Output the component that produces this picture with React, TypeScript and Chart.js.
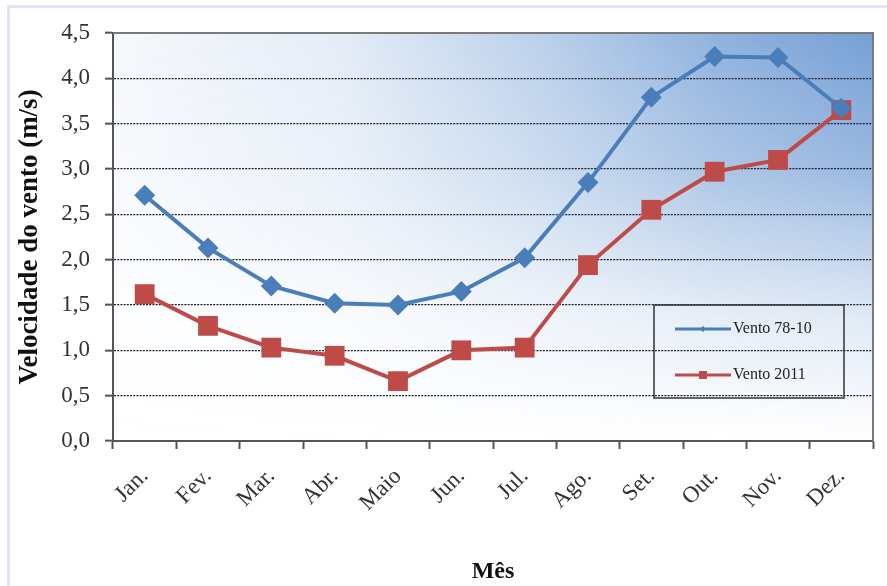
import React, { useEffect, useRef } from "react";
import { Chart, registerables } from "chart.js";

Chart.register(...registerables);

const months = ["Jan.", "Fev.", "Mar.", "Abr.", "Maio", "Jun.", "Jul.", "Ago.", "Set.", "Out.", "Nov.", "Dez."];
const vento7810 = [2.71, 2.13, 1.71, 1.52, 1.5, 1.65, 2.02, 2.85, 3.79, 4.24, 4.23, 3.67];
const vento2011 = [1.62, 1.27, 1.03, 0.94, 0.66, 1.0, 1.03, 1.94, 2.55, 2.97, 3.1, 3.65];
const seriesLabels = ["Vento 78-10", "Vento 2011"];
const yTitle = "Velocidade do vento (m/s)";
const xTitle = "Mês";

const BLUE = "#4a7ebb";
const RED = "#be4b48";
const SERIF = "'Liberation Serif', 'Times New Roman', serif";

const bgPlugin = {
  id: "bgPlugin",
  beforeDraw(chart: any) {
    const { ctx, chartArea: a, width, height } = chart;
    ctx.save();
    ctx.fillStyle = "#ffffff";
    ctx.fillRect(0, 0, width, height);
    // outer lavender frame
    ctx.fillStyle = "#e3e3f6";
    ctx.fillRect(7, 5, width - 7, 3);
    ctx.fillRect(7, 5, 3, height - 5);
    // plot gradient
    const w = Math.round(a.right - a.left);
    const h = Math.round(a.bottom - a.top);
    const off = document.createElement("canvas");
    off.width = w;
    off.height = h;
    const o = off.getContext("2d")!;
    const hg = o.createLinearGradient(0, 0, w, 0);
    hg.addColorStop(0, "rgba(118,160,214,0.07)");
    hg.addColorStop(0.3, "rgba(118,160,214,0.2)");
    hg.addColorStop(0.55, "rgba(118,160,214,0.48)");
    hg.addColorStop(0.8, "rgba(118,160,214,0.82)");
    hg.addColorStop(1, "rgba(118,160,214,1)");
    o.fillStyle = hg;
    o.fillRect(0, 0, w, h);
    o.globalCompositeOperation = "destination-in";
    const vg = o.createLinearGradient(0, 0, 0, h);
    vg.addColorStop(0, "rgba(0,0,0,1)");
    vg.addColorStop(0.35, "rgba(0,0,0,0.72)");
    vg.addColorStop(0.7, "rgba(0,0,0,0.22)");
    vg.addColorStop(1, "rgba(0,0,0,0)");
    o.fillStyle = vg;
    o.fillRect(0, 0, w, h);
    ctx.drawImage(off, a.left, a.top);
    ctx.restore();
  },
  beforeDatasetsDraw(chart: any) {
    const { ctx, chartArea: a } = chart;
    ctx.save();
    ctx.strokeStyle = "#7a7a7a";
    ctx.lineWidth = 2;
    ctx.beginPath();
    ctx.moveTo(a.left, a.top);
    ctx.lineTo(a.right, a.top);
    ctx.lineTo(a.right, a.bottom);
    ctx.stroke();
    ctx.restore();
  },
  afterDraw(chart: any) {
    const { ctx, chartArea: a } = chart;
    const bx = a.right - 219;
    const by = a.top + 272;
    const bw = 190;
    const bh = 93;
    ctx.save();
    ctx.strokeStyle = "#333333";
    ctx.lineWidth = 1.5;
    ctx.strokeRect(bx, by, bw, bh);
    const entries = [
      { label: chart.data.datasets[0].label, color: BLUE, style: "diamond", y: by + 24 },
      { label: chart.data.datasets[1].label, color: RED, style: "square", y: by + 70 },
    ];
    entries.forEach((e) => {
      ctx.strokeStyle = e.color;
      ctx.lineWidth = 3;
      ctx.beginPath();
      ctx.moveTo(bx + 21, e.y);
      ctx.lineTo(bx + 77, e.y);
      ctx.stroke();
      ctx.fillStyle = e.color;
      const cx = bx + 49;
      if (e.style === "diamond") {
        ctx.beginPath();
        ctx.moveTo(cx, e.y - 3);
        ctx.lineTo(cx + 3, e.y);
        ctx.lineTo(cx, e.y + 3);
        ctx.lineTo(cx - 3, e.y);
        ctx.closePath();
        ctx.fill();
      } else {
        ctx.fillRect(cx - 4, e.y - 4, 8, 8);
      }
      ctx.fillStyle = "#222222";
      ctx.font = `16px ${SERIF}`;
      ctx.textBaseline = "middle";
      ctx.textAlign = "left";
      ctx.fillText(e.label, bx + 79, e.y);
    });
    ctx.restore();
  },
};

export default function App() {
  const ref = useRef<HTMLCanvasElement>(null);
  useEffect(() => {
    const chart = new Chart(ref.current!, {
      type: "line",
      data: {
        labels: months,
        datasets: [
          {
            label: seriesLabels[0],
            data: vento7810,
            borderColor: BLUE,
            backgroundColor: BLUE,
            borderWidth: 4,
            pointStyle: "rectRot",
            pointRadius: 10.5,
            pointBorderWidth: 0,
            tension: 0,
          },
          {
            label: seriesLabels[1],
            data: vento2011,
            borderColor: RED,
            backgroundColor: RED,
            borderWidth: 4,
            pointStyle: "rect",
            pointRadius: 14,
            pointBorderWidth: 0,
            tension: 0,
          },
        ],
      },
      options: {
        responsive: false,
        animation: false,
        layout: { padding: { top: 33, right: 10, left: 0, bottom: 0 } },
        plugins: { legend: { display: false }, tooltip: { enabled: false } },
        scales: {
          x: {
            type: "category",
            offset: true,
            afterFit: (s: any) => {
              s.height = 145;
            },
            grid: {
              offset: true,
              drawOnChartArea: false,
              drawTicks: true,
              tickLength: 8,
              tickColor: "#555555",
              tickWidth: 2,
              color: "#555555",
            },
            border: { display: true, color: "#555555", width: 2 },
            ticks: {
              minRotation: 45,
              maxRotation: 45,
              autoSkip: false,
              padding: 14,
              color: "#333333",
              font: { family: SERIF, size: 23 },
            },
            title: {
              display: true,
              text: xTitle,
              color: "#111111",
              font: { family: SERIF, size: 24, weight: "bold" },
              padding: { top: 0, bottom: 0 },
            },
          },
          y: {
            min: 0,
            max: 4.5,
            afterFit: (s: any) => {
              s.width = 113;
            },
            grid: {
              color: "#1e1e2e",
              lineWidth: 1.3,
              tickLength: 8,
              tickColor: "#555555",
              tickWidth: 2,
            },
            border: { display: true, color: "#555555", width: 2, dash: [2, 1.2] },
            ticks: {
              stepSize: 0.5,
              padding: 15,
              color: "#333333",
              font: { family: SERIF, size: 23 },
              callback: (v: any) => Number(v).toFixed(1).replace(".", ","),
            },
            title: {
              display: true,
              text: yTitle,
              color: "#111111",
              font: { family: SERIF, size: 27, weight: "bold" },
              padding: { top: 14, bottom: 0 },
            },
          },
        },
      },
      plugins: [bgPlugin],
    });
    return () => chart.destroy();
  }, []);
  return (
    <div style={{ position: "fixed", left: 0, top: 0, width: 887, height: 586 }}>
      <canvas ref={ref} width={887} height={586} style={{ width: 887, height: 586, display: "block" }} />
    </div>
  );
}
